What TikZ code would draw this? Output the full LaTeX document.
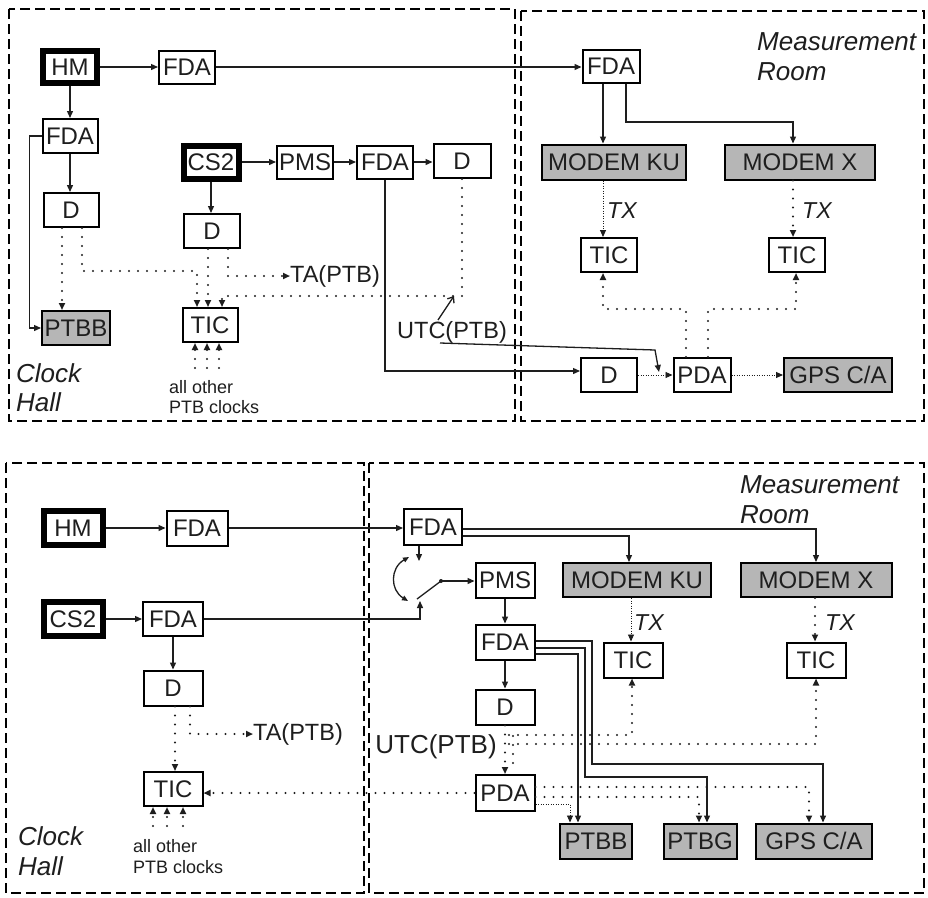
\documentclass[tikz,border=0pt]{standalone}
\usepackage{fontspec}
\setmainfont{Liberation Sans}
\usetikzlibrary{arrows.meta,calc}
\definecolor{boxgray}{RGB}{182,182,182}
\definecolor{ink}{RGB}{30,30,30}
\begin{document}
\begin{tikzpicture}[x=1pt,y=-1pt,
  box/.style={draw=black, line width=2pt, inner sep=0pt, minimum height=34pt, font=\fontsize{24}{26}\selectfont, text=ink},
  thickbox/.style={box, line width=6pt},
  graybox/.style={box, fill=boxgray},
  conn/.style={draw=ink, line width=1.3pt},
  arr/.style={-{Triangle[length=7pt,width=6pt]}},
  dots/.style={draw=ink, line width=2.3pt, dash pattern=on 0pt off 9pt, line cap=round},
  fdots/.style={draw=ink, line width=0.9pt, dash pattern=on 1pt off 1.5pt},
  panel/.style={draw=black, line width=2.5pt, dash pattern=on 10pt off 5pt},
  lbl/.style={inner sep=0pt, font=\fontsize{23.5}{25}\selectfont, text=ink},
  txlbl/.style={inner sep=0pt, font=\fontsize{23}{25}\selectfont\itshape, text=ink},
  room/.style={inner sep=0pt, font=\fontsize{26}{28}\selectfont\itshape, text=ink},
  smalltxt/.style={inner sep=0pt, font=\fontsize{18}{20}\selectfont, text=ink},
]
\useasboundingbox (0,0) rectangle (928,897);
\fill[white] (0,0) rectangle (928,897);

% ---------- panels ----------
\draw[panel] (9,9) rectangle (515,421);
\draw[panel] (521,11) rectangle (924,421);
\draw[panel] (6,463) rectangle (364,893);
\draw[panel] (369,463) rectangle (924,893);

% ================= TOP =================
\node[thickbox, minimum width=54pt, minimum height=32pt] (HMa) at (70,67) {HM};
\node[box, minimum width=56pt, minimum height=33pt] (FDAa) at (187,67) {FDA};
\node[box, minimum width=55pt] (FDAb) at (70,136) {FDA};
\node[thickbox, minimum width=55pt, minimum height=33pt] (CS2a) at (211,162) {CS2};
\node[box, minimum width=56pt, minimum height=33pt] (PMSa) at (305,162) {PMS};
\node[box, minimum width=56pt, minimum height=33pt] (FDAc) at (385,162) {FDA};
\node[box, minimum width=57pt] (Dtl) at (462,161) {D};
\node[box, minimum width=55pt] (Db) at (71,210) {D};
\node[box, minimum width=56pt] (Dc) at (212,231) {D};
\node[graybox, minimum width=68pt] (PTBBa) at (76,328) {PTBB};
\node[box, minimum width=55pt] (TICa) at (210,325) {TIC};
\node[lbl, anchor=west] (TAa) at (290,276) {TA(PTB)};
\node[lbl] (UTCa) at (452,332) {UTC(PTB)};
\node[room, anchor=base west] (CHa1) at (16,382) {Clock};
\node[room, anchor=base west] (CHa2) at (16,411) {Hall};
\node[smalltxt, anchor=base west] (AOa1) at (169,393) {all other};
\node[smalltxt, anchor=base west] (AOa2) at (169,413) {PTB clocks};

\node[box, minimum width=57pt, minimum height=33pt] (FDAd) at (611,66) {FDA};
\node[room, anchor=base west] (MRa1) at (757,50) {Measurement};
\node[room, anchor=base west] (MRa2) at (757,80) {Room};
\node[graybox, minimum width=144pt, minimum height=35pt] (MODKUa) at (614,162) {MODEM KU};
\node[graybox, minimum width=150pt, minimum height=35pt] (MODXa) at (800,162) {MODEM X};
\node[txlbl, anchor=base west] (TXa1) at (607,218) {TX};
\node[txlbl, anchor=base west] (TXa2) at (802,218) {TX};
\node[box, minimum width=56pt] (TICtr1) at (609,255) {TIC};
\node[box, minimum width=56pt] (TICtr2) at (797,255) {TIC};
\node[box, minimum width=56pt] (Dtr) at (609,375) {D};
\node[box, minimum width=57pt] (PDAa) at (702,375) {PDA};
\node[graybox, minimum width=108pt] (GPSa) at (838,375) {GPS C/A};

% solid connectors top
\draw[conn,arr] (HMa) -- (FDAa);
\draw[conn,arr] (FDAa.east) -- (FDAa.east -| FDAd.west);
\draw[conn,arr] (HMa.south) -- (HMa.south |- FDAb.north);
\draw[conn,arr] (FDAb.south) -- (FDAb.south |- Db.north);
\draw[conn,arr] (FDAb.west) -- ++(-12,0) |- (PTBBa.west);
\draw[conn,arr] (CS2a) -- (PMSa);
\draw[conn,arr] (PMSa) -- (FDAc);
\draw[conn,arr] (FDAc.east) -- (FDAc.east -| Dtl.west);
\draw[conn,arr] (CS2a.south) -- (CS2a.south |- Dc.north);
\draw[conn,arr] (FDAc.south) |- ([yshift=4pt]Dtr.west);
\draw[conn,arr] (603,0 |- FDAd.south) -- (603,0 |- MODKUa.north);
\draw[conn,arr] (626,0 |- FDAd.south) |- (793,122) -- (793,0 |- MODXa.north);
\coordinate (utcs) at (440,343);
\coordinate (utce) at (659,372);
\draw[conn,arr] (utcs) -- (655,350) -- (utce);
\coordinate (utcpa) at (438,320);
\coordinate (utcpb) at (454,296);
\draw[conn,-{Straight Barb[length=5pt,width=8pt]}] (utcpa) -- (utcpb);

% dotted top
\draw[dots,arr] (62,0 |- Db.south) -- (62,0 |- PTBBa.north);
\draw[dots,arr] (82,0 |- Db.south) |- (197,271) -- (197,0 |- TICa.north);
\draw[dots,arr] (208,0 |- Dc.south) -- (208,0 |- TICa.north);
\draw[dots,arr] (228,0 |- Dc.south) |- (TAa.west);
\draw[dots,arr] (Dtl.south) |- (222,296) -- (222,0 |- TICa.north);
\foreach \xx in {195,207,219} {\draw[dots,arr] (\xx,368) -- (\xx,0 |- TICa.south);}
\draw[fdots,arr] (603,0 |- MODKUa.south) -- (603,0 |- TICtr1.north);
\draw[dots,arr] (793,0 |- MODXa.south) -- (793,0 |- TICtr2.north);
\draw[dots,arr] (686,0 |- PDAa.north) |- (603,309) -- (603,0 |- TICtr1.south);
\draw[dots,arr] (708,0 |- PDAa.north) |- (796,309) -- (796,0 |- TICtr2.south);
\draw[fdots,arr] (Dtr) -- (PDAa);
\draw[fdots,arr] (PDAa) -- (GPSa);

% ================= BOTTOM =================
\node[thickbox, minimum width=59pt, minimum height=34pt] (HMb) at (73,528) {HM};
\node[box, minimum width=61pt, minimum height=35pt] (FDAe) at (197,528) {FDA};
\node[thickbox, minimum width=59pt, minimum height=34pt] (CS2b) at (73,619) {CS2};
\node[box, minimum width=60pt] (FDAf) at (173,619) {FDA};
\node[box, minimum width=59pt, minimum height=35pt] (Dd) at (173,688) {D};
\node[box, minimum width=59pt] (TICb) at (173,789) {TIC};
\node[lbl, anchor=west] (TAb) at (253,734) {TA(PTB)};
\node[room, anchor=base west] (CHb1) at (18,845) {Clock};
\node[room, anchor=base west] (CHb2) at (18,875) {Hall};
\node[smalltxt, anchor=base west] (AOb1) at (133,852) {all other};
\node[smalltxt, anchor=base west] (AOb2) at (133,873) {PTB clocks};

\node[box, minimum width=58pt, minimum height=36pt] (FDAg) at (433,527) {FDA};
\node[room, anchor=base west] (MRb1) at (740,493) {Measurement};
\node[room, anchor=base west] (MRb2) at (740,523) {Room};
\node[box, minimum width=59pt, minimum height=35pt] (PMSb) at (505,580) {PMS};
\node[graybox, minimum width=148pt] (MODKUb) at (637,580) {MODEM KU};
\node[graybox, minimum width=151pt] (MODXb) at (816,580) {MODEM X};
\node[box, minimum width=59pt, minimum height=35pt] (FDAh) at (505,642) {FDA};
\node[txlbl, anchor=base west] (TXb1) at (634,630) {TX};
\node[txlbl, anchor=base west] (TXb2) at (825,630) {TX};
\node[box, minimum width=59pt, minimum height=35pt] (TICc) at (633,660) {TIC};
\node[box, minimum width=59pt, minimum height=35pt] (TICd) at (816,660) {TIC};
\node[box, minimum width=59pt, minimum height=35pt] (De) at (505,707) {D};
\node[lbl, font=\fontsize{26}{28}\selectfont] (UTCb) at (436,747) {UTC(PTB)};
\node[box, minimum width=59pt, minimum height=36pt] (PDAb) at (505,793) {PDA};
\node[graybox, minimum width=72pt, minimum height=35pt] (PTBBb) at (596,841) {PTBB};
\node[graybox, minimum width=73pt, minimum height=35pt] (PTBGb) at (700,841) {PTBG};
\node[graybox, minimum width=116pt, minimum height=35pt] (GPSb) at (814,841) {GPS C/A};

% solid connectors bottom
\draw[conn,arr] (HMb) -- (FDAe);
\draw[conn,arr] (FDAe.east) -- (FDAe.east -| FDAg.west);
\draw[conn,arr] (CS2b) -- (FDAf);
\coordinate (swlow) at (420,601);
\coordinate (swtop) at (419,561);
\coordinate (swpiv) at (441,581);
\draw[conn,arr] (FDAf.east) -| (swlow);
\draw[conn,arr] (FDAf.south) -- (FDAf.south |- Dd.north);
\draw[conn,arr] (FDAg.south -| swtop) -- (swtop);
\draw[conn,{Triangle[length=6pt,width=5pt]}-{Triangle[length=6pt,width=5pt]}] (409,557) .. controls (390,568) and (390,590) .. (408,601);
\draw[conn] (417,599) -- (swpiv);
\fill[ink] (swpiv) circle (2pt);
\draw[conn,arr] (swpiv) -- (swpiv -| PMSb.west);
\draw[conn,arr] (FDAg.east |- 0,529) -| (MODXb.north);
\draw[conn,arr] (FDAg.east |- 0,536) -| (629,0 |- MODKUb.north);
\draw[conn,arr] (PMSb) -- (FDAh);
\draw[conn,arr] (FDAh) -- (De);
\draw[conn,arr] (FDAh.east |- 0,641) -| (592,764) -| (823,0 |- GPSb.north);
\draw[conn,arr] (FDAh.east |- 0,648) -| (585,777) -| (707,0 |- PTBGb.north);
\draw[conn,arr] (FDAh.east |- 0,654) -| (578,0 |- PTBBb.north);

% dotted bottom
\draw[dots,arr] (175,0 |- Dd.south) -- (175,0 |- TICb.north);
\draw[dots,arr] (190,0 |- Dd.south) |- (TAb.west);
\foreach \xx in {153,167,183} {\draw[dots,arr] (\xx,826) -- (\xx,0 |- TICb.south);}
\draw[dots,arr] (PDAb.west) -- (PDAb.west -| TICb.east);
\draw[dots,arr] (De.south) -- (De.south |- PDAb.north);
\draw[dots] (513,736) -- (513,772);
\draw[dots,arr] (509,735) -| (632,0 |- TICc.south);
\draw[dots,arr] (509,744) -| (816,0 |- TICd.south);
\draw[dots,arr] (PDAb.east |- 0,787) -| (809,0 |- GPSb.north);
\draw[dots,arr] (PDAb.east |- 0,797) -| (699,0 |- PTBGb.north);
\draw[fdots,arr] (PDAb.east |- 0,804) -| (570,0 |- PTBBb.north);
\draw[fdots,arr] (631,0 |- MODKUb.south) -- (631,0 |- TICc.north);
\draw[dots,arr] (815,0 |- MODXb.south) -- (815,0 |- TICd.north);
\end{tikzpicture}
\end{document}
